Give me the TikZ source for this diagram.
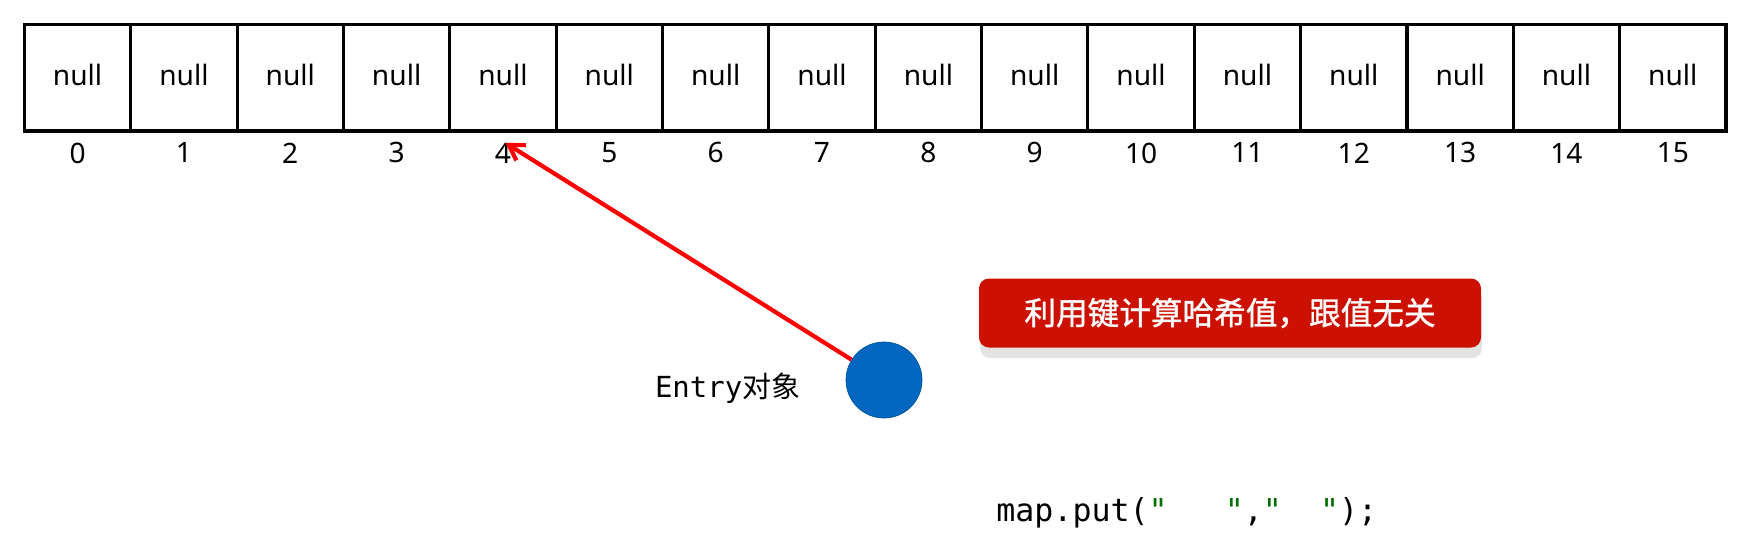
\documentclass[tikz,border=0pt]{standalone}
\usepackage{fontspec}
\setmainfont{Noto Sans}
\setmonofont{DejaVu Sans Mono}
\newfontfamily\cjk{Noto Sans CJK SC}
\newfontfamily\cjkbold[FakeBold=1.2]{Noto Sans CJK SC}
\usetikzlibrary{positioning,arrows.meta}
\definecolor{objblue}{RGB}{0,102,192}
\definecolor{boxred}{RGB}{205,17,0}
\definecolor{strgreen}{RGB}{0,110,0}
\tikzstyle{cell} = [draw,line width=1.8pt,minimum width=2.127cm,minimum height=2.13cm,inner sep=0pt,outer sep=0pt,text depth=0.13cm,font=\fontsize{16}{19}\selectfont]
\tikzstyle{idx} = [inner sep=0pt,font=\fontsize{16}{19}\selectfont]
\tikzstyle{pointer} = [line width=2.4pt,red,-{Straight Barb[length=2.9mm,width=3.6mm]}]

\begin{document}
\begin{tikzpicture}
\useasboundingbox (0,0) rectangle (34.78,-10.88);
\foreach \i in {0,...,15}{
  \node[cell] (c\i) at ({1.5515+\i*2.127},-1.554) {null};
  \node[idx] (n\i) at ([yshift=-0.44cm]c\i.south) {\i};
}
\node[circle,fill=objblue,draw={rgb,255:red,0;green,85;blue,165},line width=0.4pt,minimum size=1.52cm] (obj) at (17.68,-7.60) {};
\node[inner sep=0pt,anchor=east,font=\fontsize{16.5}{20}\selectfont] (entrytxt) at ([xshift=-0.9cm,yshift=-0.16cm]obj.west) {\texttt{Entry}{\cjk 对象}};
\coordinate (tip) at ([xshift=0.05cm,yshift=-0.24cm]c4.south);
\draw[pointer] (obj) -- (tip);
\fill[gray!22,rounded corners=0.2cm] (19.60,-5.78) rectangle (29.64,-7.16);
\node[fill=boxred,rounded corners=0.2cm,minimum width=10.04cm,minimum height=1.38cm,inner sep=0pt,text=white,font=\cjkbold\fontsize{18}{22}\selectfont] (hashbox) at (24.60,-6.26) {利用键计算哈希值，跟值无关};
\node[inner sep=0pt,anchor=west,font=\ttfamily\fontsize{18}{22}\selectfont] (putcall) at (19.92,-10.26) {map.put(\textcolor{strgreen}{"}\ \ \ \textcolor{strgreen}{"},\textcolor{strgreen}{"}\ \ \textcolor{strgreen}{"});};

\end{tikzpicture}
\end{document}
